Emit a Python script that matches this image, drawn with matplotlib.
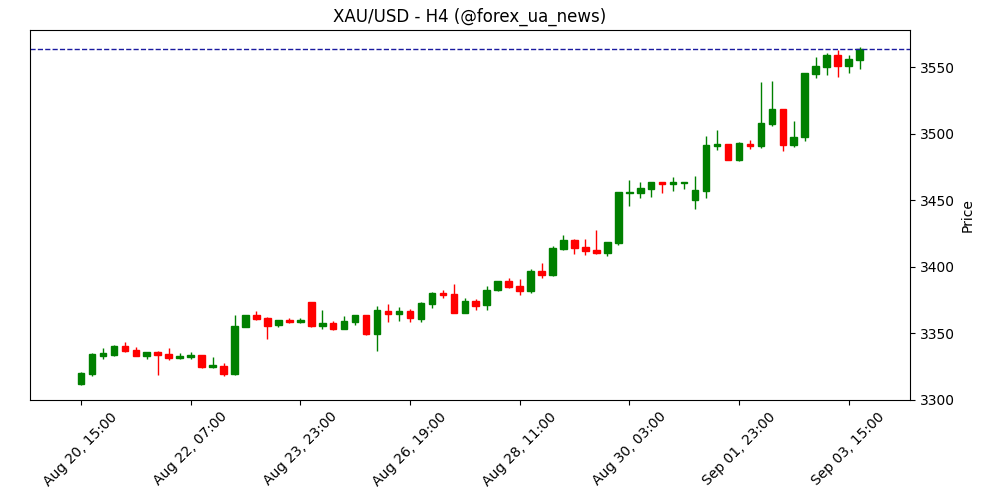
import matplotlib
matplotlib.use("Agg")
import matplotlib.pyplot as plt

opens = [3312, 3319.5, 3333, 3334, 3340.5, 3337.5, 3333, 3336, 3334.5, 3331.5,
         3332, 3334, 3325, 3325.5, 3319.5, 3355, 3364, 3361.5, 3356, 3360,
         3358.5, 3374, 3355.5, 3358, 3353.5, 3358.5, 3364, 3349.5, 3366.5, 3364.5,
         3366.5, 3361, 3372, 3380.5, 3379.5, 3365.5, 3374.5, 3371.5, 3382.5, 3389.5,
         3385.5, 3382, 3397, 3394, 3413.5, 3420, 3415, 3412.5, 3410.5, 3418,
         3455.5, 3455.5, 3458.5, 3463.5, 3462, 3463, 3450, 3457, 3491, 3492,
         3480, 3492.5, 3490.5, 3507, 3518.5, 3491.5, 3497.5, 3545, 3550, 3559,
         3551, 3555.5]
closes = [3320, 3334.5, 3335, 3340.5, 3337, 3333, 3336, 3334, 3331.5, 3333,
          3334, 3325, 3326, 3319.5, 3355.5, 3364, 3361, 3355.5, 3360, 3358.5,
          3360, 3355.5, 3358, 3353.5, 3359, 3364, 3349.5, 3367.5, 3364.5, 3366.5,
          3361.5, 3373, 3380.5, 3379, 3365.5, 3374.5, 3370.5, 3383, 3389.5, 3385,
          3382, 3397, 3394, 3414, 3420, 3414, 3412, 3410.5, 3418.5, 3456,
          3456.5, 3459, 3463.5, 3462, 3463.5, 3464, 3458, 3491.5, 3492, 3480,
          3493, 3490.5, 3508, 3519, 3491.5, 3497.5, 3545.5, 3551, 3559, 3551,
          3556, 3563.5]
highs = [3321, 3335, 3339, 3341, 3343.5, 3340, 3336, 3337, 3339, 3335,
         3336, 3334, 3332, 3328, 3364, 3364, 3367, 3362, 3360, 3361.5,
         3361.5, 3374, 3367.5, 3359, 3363, 3364, 3364, 3371, 3372, 3370,
         3368, 3374, 3381, 3383, 3387, 3376.5, 3376, 3385.5, 3389.5, 3391.5,
         3391, 3398.5, 3403, 3415.5, 3424, 3421, 3421, 3427.5, 3419, 3456,
         3465, 3464, 3464, 3463.5, 3467.5, 3464, 3468, 3498, 3502.5, 3492,
         3493.5, 3495, 3539, 3540, 3519, 3509.5, 3546, 3557.5, 3560.5, 3563,
         3559, 3565]
lows = [3311, 3318, 3331, 3333, 3336, 3333, 3331, 3319, 3330, 3331,
        3331, 3324, 3324, 3318, 3319, 3355, 3360, 3346, 3355, 3358,
        3358, 3355, 3353, 3352.5, 3353, 3356, 3349, 3337, 3358.5, 3359.5,
        3358.5, 3358.5, 3369, 3376.5, 3365, 3365, 3367.5, 3367.5, 3382, 3384.5,
        3379, 3380.5, 3391.5, 3393, 3413, 3410, 3409, 3409.5, 3408, 3416.5,
        3446, 3451.5, 3452.5, 3455.5, 3457, 3458.5, 3443.5, 3451.5, 3488, 3480,
        3479.5, 3488.5, 3489, 3506, 3487, 3490, 3494.5, 3542, 3544, 3543,
        3546, 3549]
tick_labels = ["Aug 20, 15:00", "Aug 22, 07:00", "Aug 23, 23:00", "Aug 26, 19:00",
               "Aug 28, 11:00", "Aug 30, 03:00", "Sep 01, 23:00", "Sep 03, 15:00"]

fig, ax = plt.subplots(figsize=(10, 5), dpi=100)
for i, (o, c, h, l) in enumerate(zip(opens, closes, highs, lows)):
    col = "green" if c >= o else "red"
    ax.vlines(i, l, h, color=col, linewidth=1)
    ax.bar(i, abs(c - o) if abs(c - o) > 0.6 else 0.6, bottom=min(o, c),
           width=0.6, color=col, edgecolor=col)

ax.axhline(closes[-1], color="#1a1aa0", linestyle="--", linewidth=1)
ax.set_xticks(range(0, len(opens), 10))
ax.set_xticklabels(tick_labels, rotation=45)
ax.set_xlim(-4.65, 75.6)
ax.set_ylim(3300, 3578)
ax.yaxis.tick_right()
ax.yaxis.set_label_position("right")
ax.set_ylabel("Price")
ax.set_title("XAU/USD - H4 (@forex_ua_news)")
plt.subplots_adjust(left=0.03, right=0.91, top=0.94, bottom=0.2)
plt.savefig("out.png")
